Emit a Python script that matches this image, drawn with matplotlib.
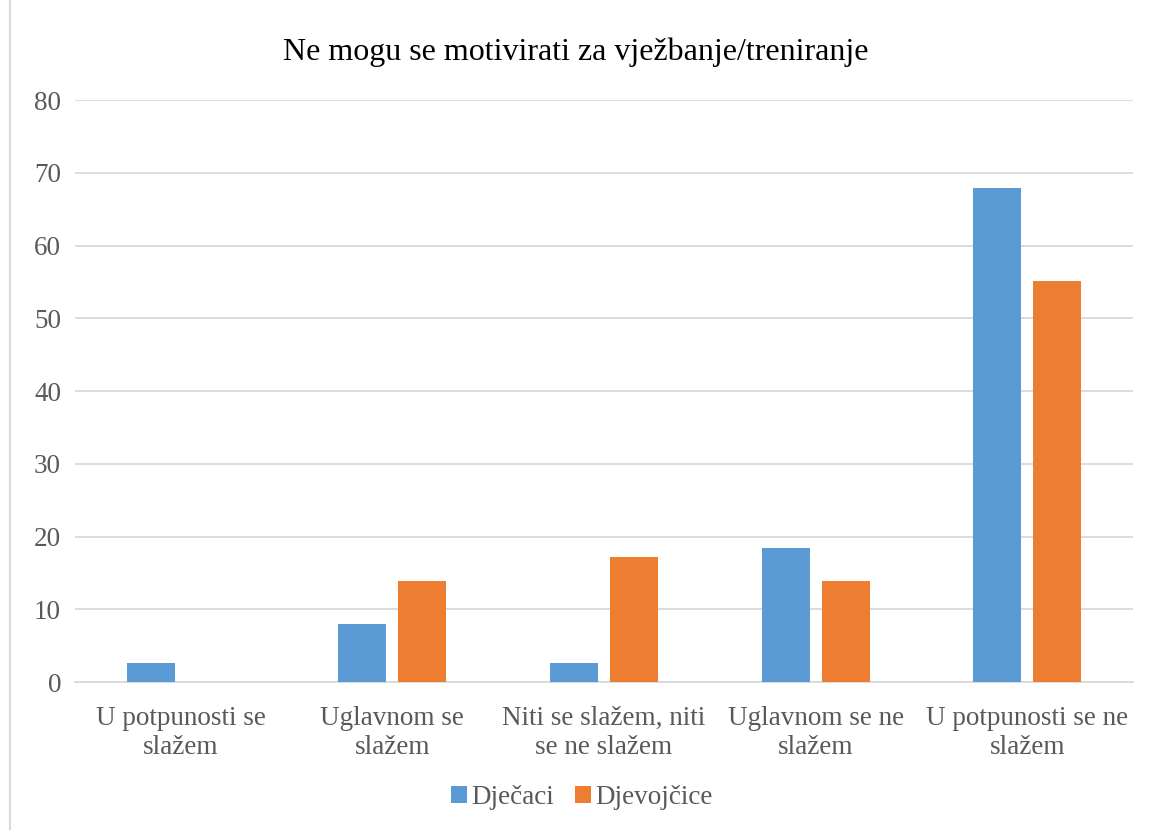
import numpy as np
import matplotlib.pyplot as plt
from matplotlib.lines import Line2D

categories = ["U potpunosti se\nslažem", "Uglavnom se\nslažem", "Niti se slažem, niti\nse ne slažem",
              "Uglavnom se ne\nslažem", "U potpunosti se ne\nslažem"]
djecaci = [2.6, 8.0, 2.6, 18.4, 67.9]
djevojcice = [0.0, 13.9, 17.2, 13.9, 55.1]
yticks = [0, 10, 20, 30, 40, 50, 60, 70, 80]

plt.rcParams['font.family'] = ['Liberation Serif', 'DejaVu Serif']
txt = '#595959'

fig = plt.figure(figsize=(11.52, 8.30), dpi=100)
ax = fig.add_axes([0.0651, 0.1783, 0.9184, 0.7012])

x = np.arange(len(categories))
w = 0.227
gap = 0.057
ax.bar(x - (w + gap) / 2, djecaci, w, color='#5b9bd5', label='Dječaci', zorder=3)
ax.bar(x + (w + gap) / 2, djevojcice, w, color='#ed7d31', label='Djevojčice', zorder=3)

ax.set_xlim(-0.5, len(categories) - 0.5)
ax.set_ylim(0, 80)
ax.set_yticks(yticks)
ax.yaxis.grid(True, color='#d9d9d9', linewidth=1.3, zorder=0)
for s in ['top', 'right', 'left']:
    ax.spines[s].set_visible(False)
ax.spines['bottom'].set_color('#d9d9d9')
ax.spines['bottom'].set_linewidth(1.3)
ax.tick_params(axis='both', length=0, labelsize=19.5, colors=txt)
ax.tick_params(axis='y', pad=10)
ax.tick_params(axis='x', pad=17)
ax.set_xticks(x)
ax.set_xticklabels(categories, linespacing=1.25)

fig.text(0.5, 0.937, 'Ne mogu se motivirati za vježbanje/treniranje', ha='center', va='center',
         fontsize=23, color='black')

ax.legend(loc='center', bbox_to_anchor=(0.505, 0.039), bbox_transform=fig.transFigure, ncol=2,
          frameon=False, fontsize=19.5, labelcolor=txt, handlelength=0.6, handleheight=0.6,
          handletextpad=0.15, columnspacing=0.75)

fig.add_artist(Line2D([10 / 1152, 10 / 1152], [0, 1], color='#d9d9d9', linewidth=1.5))

fig.savefig('out.png', dpi=100)
